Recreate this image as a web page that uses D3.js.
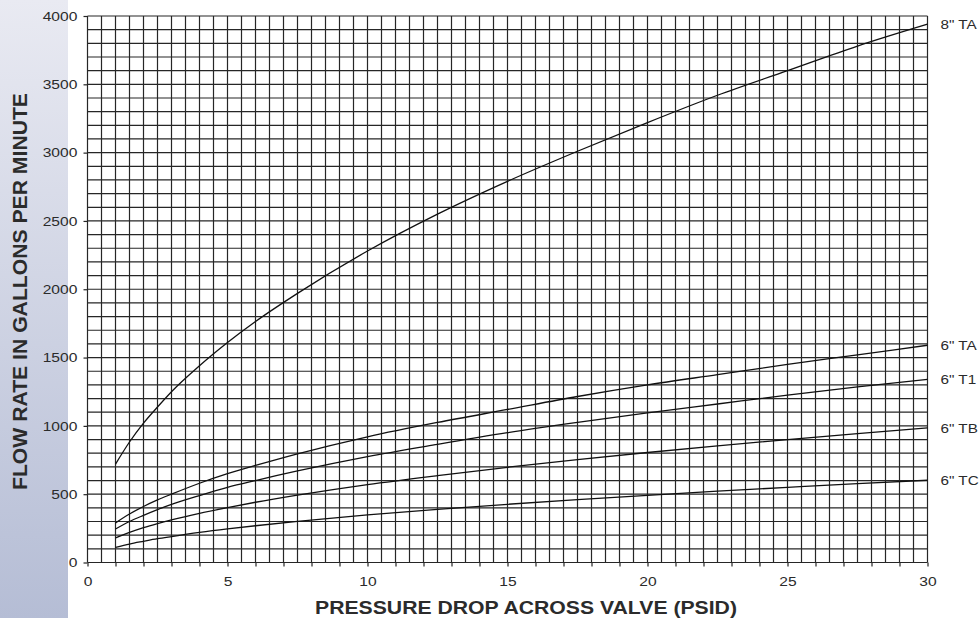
<!DOCTYPE html>
<html>
<head>
<meta charset="utf-8">
<script src="https://cdn.jsdelivr.net/npm/d3@7"></script>
<style>
  body { margin: 0; background: #fff; }
  svg { display: block; font-family: "Liberation Sans", Arial, sans-serif; }
</style>
</head>
<body>
<svg></svg>
<script>
const width = 980, height = 618;

// pressure drop readings (psid) along each curve
const pressure = [1, 1.5, 2, 2.5, 3, 4, 5, 6, 7.5, 10, 12.5, 15, 17.5, 20, 22.5, 25, 27.5, 30];

// flow readings (gpm)
const flow8TA = [720, 882, 1020, 1138, 1250, 1440, 1610, 1764, 1970, 2280, 2550, 2790, 3010, 3220, 3420, 3600, 3780, 3940];
const flow6TA = [290, 355, 410, 458, 500, 580, 650, 710, 795, 920, 1025, 1120, 1215, 1300, 1375, 1450, 1520, 1590];
const flow6T1 = [245, 300, 345, 387, 425, 490, 550, 600, 670, 775, 865, 950, 1025, 1095, 1160, 1225, 1285, 1340];
const flow6TB = [180, 220, 255, 285, 312, 360, 402, 441, 493, 570, 636, 697, 753, 805, 854, 900, 944, 986];
const flow6TC = [110, 135, 155, 174, 190, 220, 246, 269, 301, 348, 389, 426, 460, 492, 522, 550, 577, 602];

const seriesNames = ['8" TA', '6" TA', '6" T1', '6" TB', '6" TC'];
const seriesFlows = [flow8TA, flow6TA, flow6T1, flow6TB, flow6TC];

const xTicks = [0, 5, 10, 15, 20, 25, 30];
const yTicks = [0, 500, 1000, 1500, 2000, 2500, 3000, 3500, 4000];

const ink = "#2b2b2b";
const fontFam = '"Liberation Sans", Arial, sans-serif';

const svg = d3.select("svg")
    .attr("width", width)
    .attr("height", height);

// left shaded band
const grad = svg.append("defs").append("linearGradient")
    .attr("id", "band")
    .attr("x1", 0).attr("y1", 0).attr("x2", 0).attr("y2", 1);
grad.append("stop").attr("offset", "0%").attr("stop-color", "#e9eaf2");
grad.append("stop").attr("offset", "100%").attr("stop-color", "#b5bdd5");
svg.append("rect")
    .attr("x", 0).attr("y", 0)
    .attr("width", 68).attr("height", height)
    .attr("fill", "url(#band)");

const x = d3.scaleLinear().domain([0, 30]).range([87.5, 927.5]);
const y = d3.scaleLinear().domain([0, 4000]).range([562.5, 16]);

// grid: every 0.5 psid and every 100 gpm
const grid = svg.append("g")
    .attr("stroke", "#262626")
    .attr("stroke-width", 1.2);

grid.selectAll(".vline")
    .data(d3.range(0, 30.01, 0.5))
    .enter().append("line")
    .attr("x1", d => x(d)).attr("x2", d => x(d))
    .attr("y1", y(0)).attr("y2", y(4000));

grid.selectAll(".hline")
    .data(d3.range(0, 4001, 100))
    .enter().append("line")
    .attr("y1", d => y(d)).attr("y2", d => y(d))
    .attr("x1", x(0)).attr("x2", x(30));

// axes
const xAxis = svg.append("g")
    .attr("transform", `translate(0,${y(0)})`)
    .call(d3.axisBottom(x)
        .tickValues(d3.range(0, 31, 1))
        .tickSize(4)
        .tickPadding(10)
        .tickFormat(d => xTicks.includes(d) ? d : ""));

const yAxis = svg.append("g")
    .attr("transform", `translate(${x(0)},0)`)
    .call(d3.axisLeft(y)
        .tickValues(yTicks)
        .tickSize(4)
        .tickPadding(4.5)
        .tickFormat(d3.format("d")));

[xAxis, yAxis].forEach(ax => {
    ax.attr("font-family", fontFam).attr("font-size", 13);
    ax.select(".domain").remove();
    ax.selectAll(".tick line").attr("stroke", "#262626").attr("stroke-width", 1.2);
    ax.selectAll(".tick text").attr("fill", ink).attr("transform", "scale(1.2,1)");
});

// curves
const line = d3.line()
    .x(d => x(d[0]))
    .y(d => y(d[1]))
    .curve(d3.curveMonotoneX);

seriesFlows.forEach((flows, i) => {
    const pts = pressure.map((p, j) => [p, flows[j]]);
    svg.append("path")
        .datum(pts)
        .attr("d", line)
        .attr("fill", "none")
        .attr("stroke", "#111")
        .attr("stroke-width", 1.3);

    svg.append("text")
        .attr("transform", `translate(940.5,${y(flows[flows.length - 1])}) scale(1.13,1)`)
        .attr("dy", "0.36em")
        .attr("font-size", 13.5)
        .attr("fill", ink)
        .text(seriesNames[i]);
});

// axis titles
svg.append("text")
    .attr("x", 526)
    .attr("y", 614)
    .attr("text-anchor", "middle")
    .attr("font-size", 18.5)
    .attr("font-weight", "bold")
    .attr("fill", ink)
    .attr("textLength", 422)
    .attr("lengthAdjust", "spacingAndGlyphs")
    .text("PRESSURE DROP ACROSS VALVE (PSID)");

svg.append("text")
    .attr("transform", "translate(26.5,291.5) rotate(-90)")
    .attr("text-anchor", "middle")
    .attr("font-size", 19.5)
    .attr("font-weight", "bold")
    .attr("fill", ink)
    .attr("textLength", 397)
    .attr("lengthAdjust", "spacingAndGlyphs")
    .text("FLOW RATE IN GALLONS PER MINUTE");
</script>
</body>
</html>
